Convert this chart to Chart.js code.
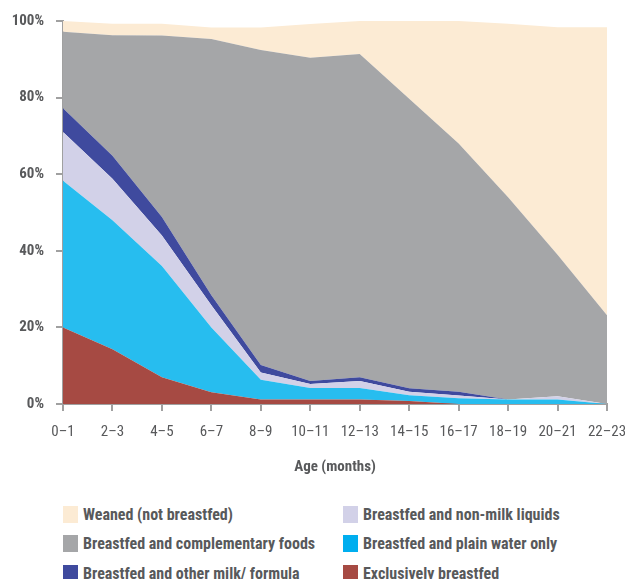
<!DOCTYPE html>
<html>
<head>
<meta charset="utf-8">
<script src="https://cdn.jsdelivr.net/npm/chart.js@4"></script>
<style>
  body { margin: 0; background: #fff; }
  #wrap { position: relative; width: 625px; height: 579px; overflow: hidden; }
  #chart { position: absolute; left: 0; top: 0; }
  #legend {
    position: absolute; left: 63px; top: 505px;
    display: grid; grid-template-columns: 280px 280px; grid-auto-rows: 29.5px;
    font-family: "Liberation Sans Narrow", "Roboto Condensed", "DejaVu Sans Condensed", sans-serif;
    font-weight: bold; font-size: 16px; color: #58595b;
  }
  .item { display: flex; align-items: center; height: 18px; }
  .box { width: 15px; height: 17px; margin-right: 5px; }
</style>
</head>
<body>
<div id="wrap">
  <canvas id="chart" width="625" height="490"></canvas>
  <div id="legend"></div>
</div>
<script>
document.addEventListener("DOMContentLoaded", () => {
  const ageLabels = ["0–1", "2–3", "4–5", "6–7", "8–9", "10–11", "12–13", "14–15", "16–17", "18–19", "20–21", "22–23"];

  const exclusive     = [20, 14.3, 7, 3.1, 1.2, 1.2, 1.2, 0.8, 0, 0, 0, 0];
  const plainWater    = [38.3, 33.7, 29, 16.9, 5.1, 3, 3, 1.5, 1.5, 1.2, 1.2, 0];
  const nonMilk       = [12.7, 10.8, 8, 5.8, 1.9, 1, 1.8, 0.9, 0.7, 0, 0.8, 0];
  const otherMilk     = [6.2, 6, 4.8, 2.6, 2, 0.8, 1, 0.9, 1, 0, 0, 0];
  const complementary = [20, 31.5, 47.4, 66.9, 82.2, 84.4, 84.4, 75.6, 64.8, 52.8, 37, 23.2];
  const weaned        = [2.8, 3, 3.1, 3, 5.9, 8.8, 8.6, 20.3, 32, 45.3, 59.4, 75.2];

  const font = "'Liberation Sans Narrow', 'Roboto Condensed', 'DejaVu Sans Condensed', sans-serif";
  const textColor = "#58595b";
  const axisColor = "#a0a0a0";

  // stacking order bottom -> top
  const series = [
    { label: "Exclusively breastfed", data: exclusive, color: "#a64a43", legend: "#a64a43" },
    { label: "Breastfed and plain water only", data: plainWater, color: "#27bdef", legend: "#00aeef" },
    { label: "Breastfed and non-milk liquids", data: nonMilk, color: "#d2d1e8", legend: "#d2d1e8" },
    { label: "Breastfed and other milk/ formula", data: otherMilk, color: "#3f4a9e", legend: "#3f4a9e" },
    { label: "Breastfed and complementary foods", data: complementary, color: "#a5a6a8", legend: "#a5a6a8" },
    { label: "Weaned (not breastfed)", data: weaned, color: "#fcebd4", legend: "#fcebd4" }
  ];

  const datasets = series.map((s, i) => ({
    label: s.label,
    data: s.data,
    backgroundColor: s.color,
    borderColor: s.color,
    borderWidth: 0,
    pointRadius: 0,
    tension: 0,
    fill: i === 0 ? "origin" : "-1"
  }));

  new Chart(document.getElementById("chart").getContext("2d"), {
    type: "line",
    data: { labels: ageLabels, datasets: datasets },
    options: {
      responsive: false,
      animation: false,
      layout: { padding: { top: 20, right: 18, left: 0, bottom: 0 } },
      plugins: { legend: { display: false }, tooltip: { enabled: false } },
      scales: {
        x: {
          offset: false,
          grid: { drawOnChartArea: false, drawTicks: true, tickLength: 7, color: axisColor, lineWidth: 2 },
          border: { color: axisColor, width: 2 },
          ticks: { color: textColor, font: { family: font, size: 15 }, padding: 12, maxRotation: 0, autoSkip: false },
          title: { display: true, text: "Age (months)", color: textColor, font: { family: font, size: 15, weight: "bold" }, padding: { top: 4, bottom: 14 } },
          afterFit: scale => {
            scale.height = 86;
            // let the last label hang into the right padding
            scale.paddingLeft = 0;
            scale.paddingRight = 0;
          }
        },
        y: {
          stacked: true,
          min: 0,
          max: 100,
          grid: { drawOnChartArea: false, drawTicks: true, tickLength: 7, color: axisColor, lineWidth: 2 },
          border: { color: axisColor, width: 2 },
          ticks: { stepSize: 20, color: textColor, font: { family: font, size: 15, weight: "bold" }, padding: 12, callback: v => v + "%" },
          afterFit: scale => { scale.width = 63; }
        }
      }
    }
  });

  // legend in two columns, same order as the reference
  const legendOrder = [5, 2, 4, 1, 3, 0];
  const legend = document.getElementById("legend");
  legendOrder.forEach(idx => {
    const s = series[idx];
    const item = document.createElement("div");
    item.className = "item";
    item.innerHTML = `<span class="box" style="background:${s.legend}"></span><span>${s.label}</span>`;
    legend.appendChild(item);
  });
});
</script>
</body>
</html>
